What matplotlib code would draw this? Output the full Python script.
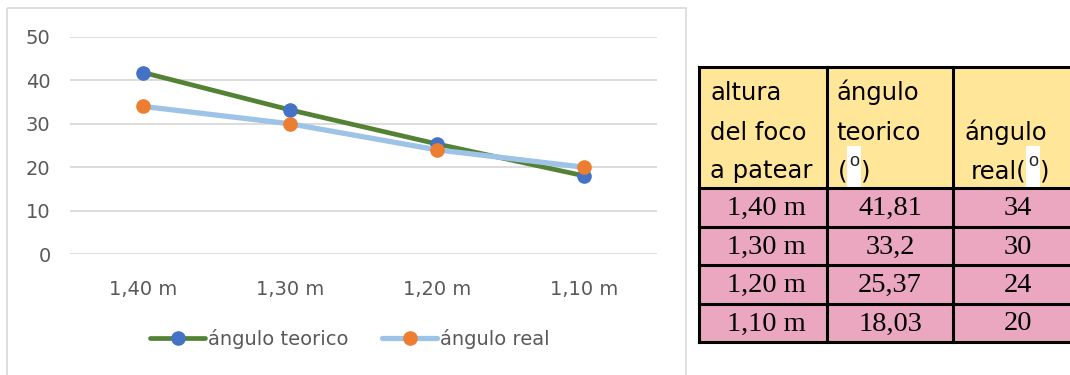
import matplotlib
matplotlib.use('Agg')
import matplotlib.pyplot as plt
from matplotlib.patches import Rectangle

# data
alturas = ['1,40 m', '1,30 m', '1,20 m', '1,10 m']
ang_teorico = [41.81, 33.2, 25.37, 18.03]
ang_real = [34, 30, 24, 20]
teorico_txt = ['41,81', '33,2', '25,37', '18,03']
real_txt = ['34', '30', '24', '20']
yticks = [0, 10, 20, 30, 40, 50]

W, H = 1070, 375
fig = plt.figure(figsize=(W / 100, H / 100), dpi=100)

# overlay in pixel coords for border + table
bg = fig.add_axes([0, 0, 1, 1])
bg.set_xlim(0, W)
bg.set_ylim(H, 0)
bg.axis('off')
bg.add_patch(Rectangle((7, 8), 679, 380, fill=False, edgecolor='#d9d9d9', linewidth=1.2))

# ---- chart ----
def fx(px):
    return px / W

def fy(py):
    return 1 - py / H

ax = fig.add_axes([fx(70), fy(254), fx(657) - fx(70), fy(37) - fy(254)])
x = range(len(alturas))
ax.plot(x, ang_teorico, color='#548235', linewidth=3.4, marker='o', markersize=9.5,
        markerfacecolor='#4472C4', markeredgecolor='#4472C4', label='ángulo teorico',
        solid_capstyle='round')
ax.plot(x, ang_real, color='#9DC3E6', linewidth=3.8, marker='o', markersize=9.5,
        markerfacecolor='#ED7D31', markeredgecolor='#ED7D31', label='ángulo real',
        solid_capstyle='round')
ax.set_xlim(-0.5, len(alturas) - 0.5)
ax.set_ylim(0, 50)
ax.set_yticks(yticks)
ax.set_xticks(list(x))
ax.set_xticklabels(alturas)
ax.grid(axis='y', color='#d9d9d9', linewidth=1.3)
ax.set_axisbelow(True)
for s in ax.spines.values():
    s.set_visible(False)
ax.tick_params(length=0, labelsize=14, labelcolor='#595959')
ax.tick_params(axis='y', pad=14)
ax.tick_params(axis='x', pad=19)

leg = fig.legend(loc='center', bbox_to_anchor=(fx(350), fy(339)), ncol=2, frameon=False,
                 handlelength=2.85, handletextpad=0.15, columnspacing=1.7,
                 prop={'size': 14})
for t in leg.get_texts():
    t.set_color('#595959')

# ---- table ----
cols = [699, 827, 953, 1085]
rows = [67, 188, 227, 265, 304, 342]
yellow = '#FFE699'
pink = '#EBA7BF'
for c in range(3):
    bg.add_patch(Rectangle((cols[c], rows[0]), cols[c + 1] - cols[c], rows[1] - rows[0],
                           facecolor=yellow, edgecolor='none', zorder=1))
    for r in range(1, 5):
        bg.add_patch(Rectangle((cols[c], rows[r]), cols[c + 1] - cols[c], rows[r + 1] - rows[r],
                               facecolor=pink, edgecolor='none', zorder=1))
for yy in rows:
    bg.plot([cols[0], cols[-1]], [yy, yy], color='black', linewidth=2.2, zorder=3)
for xx in cols[:3]:
    bg.plot([xx, xx], [rows[0], rows[-1]], color='black', linewidth=2.2, zorder=3)

hfont = dict(family='DejaVu Sans', size=17.5, color='black', va='baseline', zorder=4)
bg.text(710, 100, 'altura', ha='left', **hfont)
bg.text(710, 140, 'del foco', ha='left', **hfont)
bg.text(710, 178, 'a patear', ha='left', **hfont)
bg.text(836, 100, 'ángulo', ha='left', **hfont)
bg.text(836, 140, 'teorico', ha='left', **hfont)
bg.text(964, 140, 'ángulo', ha='left', **hfont)

# degree marks with white patch
ofont = dict(family='Liberation Sans', size=13, color='#222222', va='baseline',
             ha='center', zorder=4)
bg.add_patch(Rectangle((847, 146), 14, 42, facecolor='white', edgecolor='none', zorder=2))
bg.text(847, 178, '(', ha='right', **hfont)
bg.text(854, 166, 'o', **ofont)
bg.text(861, 178, ')', ha='left', **hfont)
bg.text(1026, 178, 'real(', ha='right', **hfont)
bg.add_patch(Rectangle((1026, 146), 14, 42, facecolor='white', edgecolor='none', zorder=2))
bg.text(1033, 166, 'o', **ofont)
bg.text(1040, 178, ')', ha='left', **hfont)

bfont = dict(family='Liberation Serif', size=20.5, color='black', va='center', ha='center', zorder=4)
for r in range(4):
    yc = (rows[r + 1] + rows[r + 2]) / 2 + 1
    bg.text(766, yc, alturas[r], **bfont)
    bg.text(890, yc, teorico_txt[r], **bfont)
    bg.text(1018, yc, real_txt[r], **bfont)

fig.savefig('out.png', dpi=100)
